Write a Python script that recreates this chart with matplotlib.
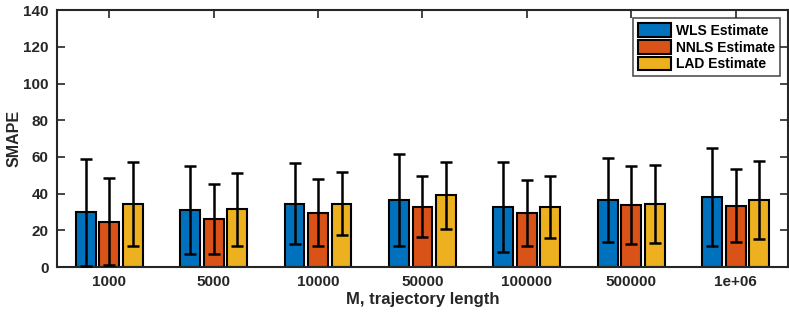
import matplotlib.pyplot as plt
import numpy as np

plt.rcParams['font.family'] = ['Liberation Sans', 'DejaVu Sans']

# data
categories = ["1000", "5000", "10000", "50000", "100000", "500000", "1e+06"]
series = ["WLS Estimate", "NNLS Estimate", "LAD Estimate"]
wls = [29.8, 30.9, 34.5, 36.5, 32.7, 36.5, 38.2]
nnls = [24.8, 26.0, 29.7, 32.9, 29.5, 34.0, 33.5]
lad = [34.5, 31.5, 34.5, 39.0, 32.7, 34.5, 36.5]
wls_err = [29.0, 24.0, 22.0, 25.0, 24.4, 22.8, 26.5]
nnls_err = [23.5, 19.0, 18.0, 16.6, 17.9, 21.3, 20.0]
lad_err = [23.0, 20.0, 17.3, 18.5, 17.0, 21.2, 21.4]

colors = ["#0072BD", "#D95319", "#EDB120"]
axis_col = "#262626"

fig = plt.figure(figsize=(7.89, 3.16), dpi=100)
ax = fig.add_axes([0.0722, 0.155, 0.9265, 0.813])

x = np.arange(1, len(categories) + 1)
width = 0.19
offsets = [-0.225, 0.0, 0.225]
values = [wls, nnls, lad]
errs = [wls_err, nnls_err, lad_err]

for vals, err, off, col, name in zip(values, errs, offsets, colors, series):
    ax.bar(x + off, vals, width, color=col, edgecolor="black", linewidth=1.5,
           label=name, zorder=2)
    ax.errorbar(x + off, vals, yerr=err, fmt="none", ecolor="black",
                elinewidth=1.8, capsize=4, capthick=1.8, zorder=3)

ax.set_xlim(0.5, 7.5)
ax.set_ylim(0, 140)
ax.set_xticks(x)
ax.set_xticklabels(categories)
ax.set_yticks(np.arange(0, 141, 20))

ax.tick_params(direction="in", length=6, width=1.2, top=True, right=True,
               colors=axis_col, labelsize=11, pad=6)
for lbl in ax.get_xticklabels() + ax.get_yticklabels():
    lbl.set_fontweight("bold")
for sp in ax.spines.values():
    sp.set_color(axis_col)
    sp.set_linewidth(1.5)

ax.set_xlabel("M, trajectory length", fontsize=12, fontweight="bold",
              color=axis_col, labelpad=2)
ax.set_ylabel("SMAPE", fontsize=11.5, fontweight="bold", color=axis_col)
ax.yaxis.set_label_coords(-0.048, 0.5)

leg = ax.legend(loc="upper right", fontsize=10, frameon=True, fancybox=False,
                edgecolor=axis_col, borderpad=0.35, handlelength=2.4,
                handleheight=1.15, handletextpad=0.3, labelspacing=0.15,
                borderaxespad=0.6)
leg.get_frame().set_linewidth(1.2)
for t in leg.get_texts():
    t.set_fontweight("bold")

plt.savefig("out.png", dpi=100)
plt.close()
